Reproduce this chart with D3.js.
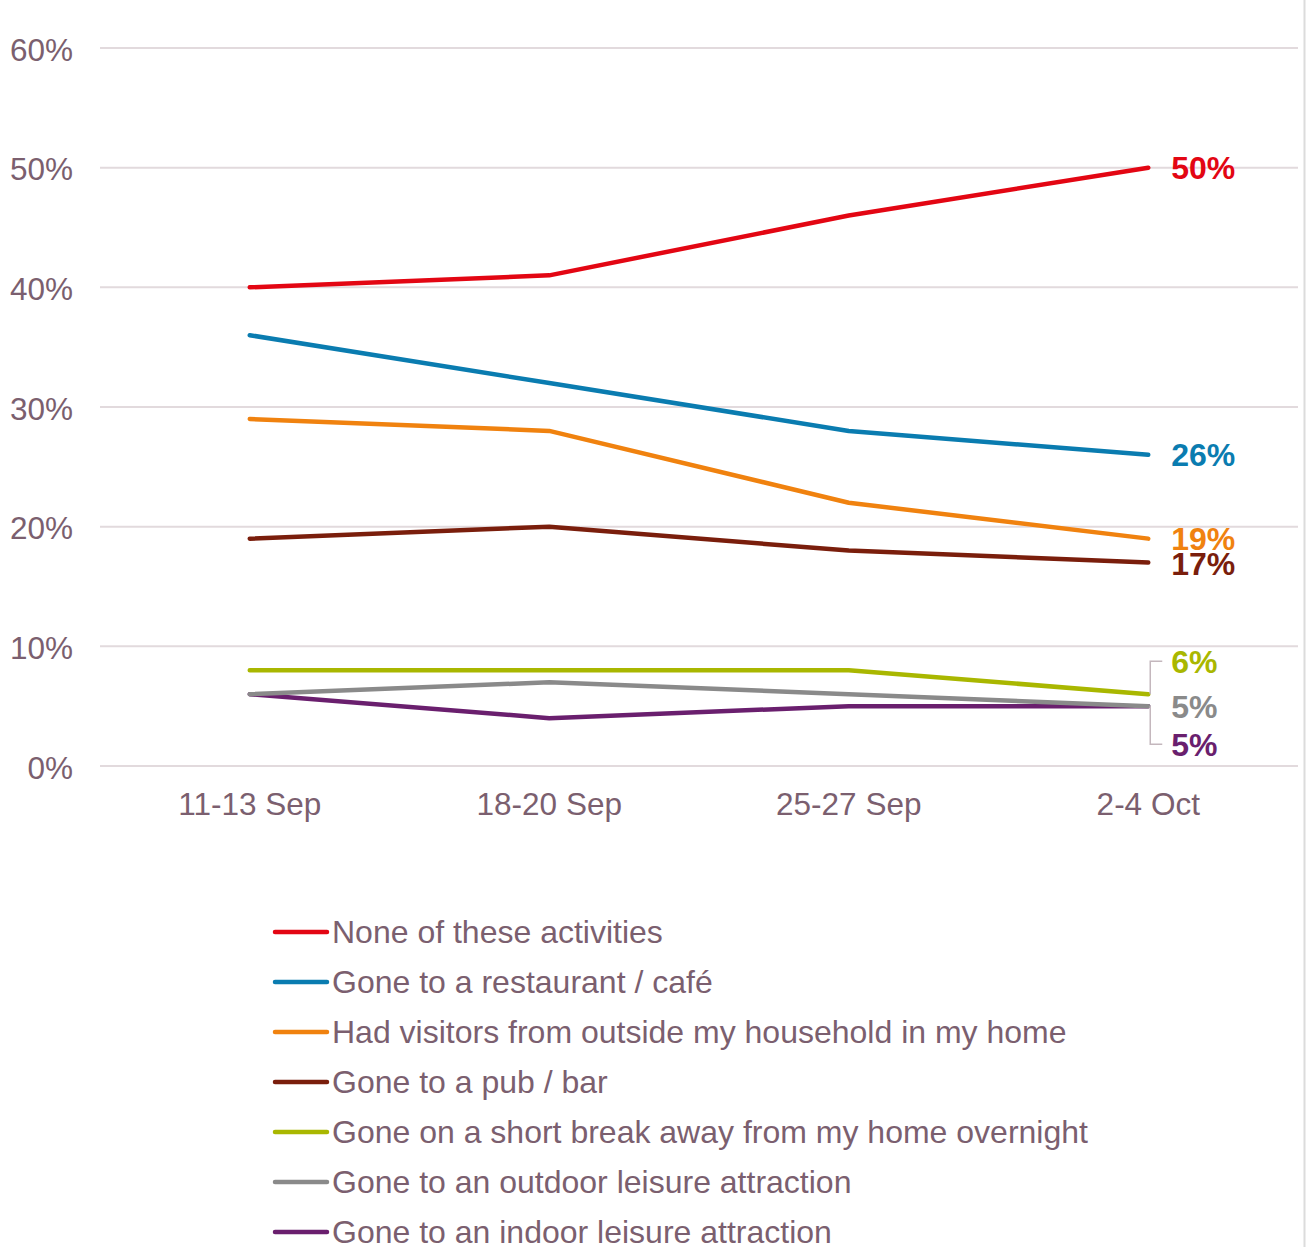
<!DOCTYPE html>
<meta charset="utf-8">
<title>Activities</title>
<style>
body { margin: 0; background: #fff; font-family: "Liberation Sans", Arial, sans-serif; }
.grid line { stroke: #e2dadd; stroke-width: 2; }
.axis text { fill: #7b5f6f; font-size: 31.5px; }
.legend text { fill: #7b5f6f; font-size: 32px; }
</style>
<body>
<script src="https://d3js.org/d3.v7.min.js"></script>
<script>
// categories (x axis)
var weeks = ["11-13 Sep", "18-20 Sep", "25-27 Sep", "2-4 Oct"];
var yTicks = [0, 10, 20, 30, 40, 50, 60];

// series names, colours and values (percent)
var names = [
  "None of these activities",
  "Gone to a restaurant / café",
  "Had visitors from outside my household in my home",
  "Gone to a pub / bar",
  "Gone on a short break away from my home overnight",
  "Gone to an outdoor leisure attraction",
  "Gone to an indoor leisure attraction"
];
var colors = ["#e30613", "#0a7cb0", "#f0820f", "#7a1e0c", "#a9b700", "#8a8a8a", "#6a1f6e"];
var none       = [40, 41, 46, 50];
var restaurant = [36, 32, 28, 26];
var visitors   = [29, 28, 22, 19];
var pub        = [19, 20, 18, 17];
var shortBreak = [8, 8, 8, 6];
var outdoor    = [6, 7, 6, 5];
var indoor     = [6, 4, 5, 5];
var values = [none, restaurant, visitors, pub, shortBreak, outdoor, indoor];

var W = 1306, H = 1247;
var svg = d3.select("body").append("svg").attr("width", W).attr("height", H);

var x = d3.scaleBand().domain(weeks).range([100, 1298]);
var y = d3.scaleLinear().domain([0, 60]).range([766, 48]);

// right border line
svg.append("line")
  .attr("x1", 1304.5).attr("x2", 1304.5).attr("y1", 0).attr("y2", H)
  .attr("stroke", "#dcdcdc").attr("stroke-width", 2);

// gridlines
svg.append("g").attr("class", "grid")
  .selectAll("line").data(yTicks).join("line")
  .attr("x1", 100).attr("x2", 1298)
  .attr("y1", function(d) { return y(d); })
  .attr("y2", function(d) { return y(d); });

// y axis labels
svg.append("g").attr("class", "axis")
  .attr("transform", "translate(73,1)")
  .call(d3.axisLeft(y).tickValues(yTicks).tickSize(0).tickPadding(0)
        .tickFormat(function(d) { return d + "%"; }))
  .call(function(g) { g.select(".domain").remove(); })
  .selectAll("text").attr("dy", "0.35em");

// x axis labels
svg.append("g").attr("class", "axis")
  .attr("transform", "translate(0,793)")
  .call(d3.axisBottom(x).tickSize(0).tickPadding(0))
  .call(function(g) { g.select(".domain").remove(); })
  .selectAll("text").attr("dy", "0.7em");

var line = d3.line()
  .x(function(d, i) { return x(weeks[i]) + x.bandwidth() / 2; })
  .y(function(d) { return y(d); });

// draw bottom series first so red ends on top
var order = d3.range(values.length).reverse();
svg.append("g").selectAll("path").data(order).join("path")
  .attr("d", function(i) { return line(values[i]); })
  .attr("fill", "none")
  .attr("stroke", function(i) { return colors[i]; })
  .attr("stroke-width", 4.5)
  .attr("stroke-linecap", "round")
  .attr("stroke-linejoin", "round");

// end labels
var xEnd = x(weeks[3]) + x.bandwidth() / 2;
var labelShift = [0, 0, 0, 1, -33, 0, 38];
svg.append("g").selectAll("text").data(d3.range(values.length)).join("text")
  .attr("x", xEnd + 23)
  .attr("y", function(i) { return y(values[i][3]) + labelShift[i]; })
  .attr("dy", "0.36em")
  .attr("fill", function(i) { return colors[i]; })
  .style("font-size", "32px").style("font-weight", "bold")
  .text(function(i) { return values[i][3] + "%"; });

// leader lines for crowded labels
[4, 6].forEach(function(i) {
  var y0 = y(values[i][3]), y1 = y0 + labelShift[i];
  svg.append("path")
    .attr("d", "M" + (xEnd + 2) + "," + y0 + "V" + y1 + "H" + (xEnd + 14))
    .attr("fill", "none").attr("stroke", "#c4b7bd").attr("stroke-width", 1.5);
});

// legend
var leg = svg.append("g").attr("class", "legend")
  .selectAll("g").data(d3.range(names.length)).join("g")
  .attr("transform", function(i) { return "translate(275," + (932 + i * 50) + ")"; });
leg.append("line")
  .attr("x1", 0).attr("x2", 52)
  .attr("stroke", function(i) { return colors[i]; })
  .attr("stroke-width", 4.5).attr("stroke-linecap", "round");
leg.append("text")
  .attr("x", 57).attr("dy", "0.35em")
  .text(function(i) { return names[i]; });
</script>
</body>
